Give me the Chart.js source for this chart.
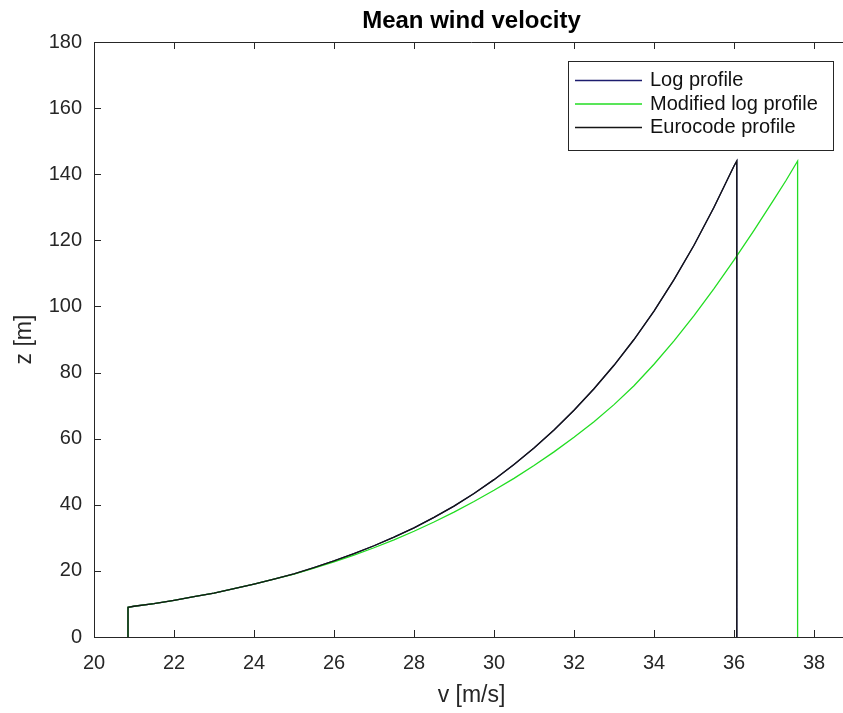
<!DOCTYPE html>
<html>
<head>
<meta charset="utf-8">
<title>Mean wind velocity</title>
<script src="https://cdn.jsdelivr.net/npm/chart.js@4.4.1/dist/chart.umd.min.js"></script>
<style>
    html, body { margin: 0; padding: 0; background: #fff; overflow: hidden; }
    #wrap { width: 843px; height: 713px; overflow: hidden; }
</style>
</head>
<body>
<div id="wrap"><canvas id="windChart" width="860" height="713"></canvas></div>
<script>
// Eurocode profile (the log profile lies right under it)
const euroVelocity = [20.85, 20.85, 21, 21.5, 22, 22.5, 23, 23.5, 24, 24.5, 25, 25.5, 26, 26.5, 27, 27.5,
    28, 28.5, 29, 29.5, 30, 30.5, 31, 31.5, 32, 32.5, 33, 33.5, 34, 34.5, 35, 35.5, 36, 36.07, 36.07];
const euroHeight = [0, 9.0, 9.3, 10.1, 11.1, 12.2, 13.3, 14.6, 16.0, 17.5, 19.1, 21.0, 23.0, 25.2, 27.6, 30.2,
    33.0, 36.2, 39.6, 43.4, 47.6, 52.2, 57.2, 62.6, 68.6, 75.1, 82.2, 90.0, 98.6, 108.1, 118.5, 130.0, 142.5, 144, 0];

const logVelocity = euroVelocity;
const logHeight = euroHeight;

const modVelocity = [20.85, 20.85, 21, 21.5, 22, 22.5, 23, 23.5, 24, 24.5, 25, 25.5, 26, 26.5, 27, 27.5,
    28, 28.5, 29, 29.5, 30, 30.5, 31, 31.5, 32, 32.5, 33, 33.5, 34, 34.5, 35, 35.5, 36, 36.5, 37, 37.3, 37.59, 37.59];
const modHeight = [0, 9.0, 9.3, 10.1, 11.1, 12.2, 13.3, 14.6, 16.0, 17.5, 19.0, 20.8, 22.7, 24.8, 27.0, 29.4,
    32.0, 34.8, 37.8, 41.0, 44.4, 48.0, 51.9, 56.0, 60.4, 65.1, 70.3, 76.0, 82.5, 89.6, 97.2, 105.4, 114.0, 123.0, 132.4, 138.1, 144, 0];

const xTicks = [20, 22, 24, 26, 28, 30, 32, 34, 36, 38];
const yTicks = [0, 20, 40, 60, 80, 100, 120, 140, 160, 180];

const FONT = "'Liberation Sans', Arial, Helvetica, sans-serif";
const AXIS_COLOR = "#262626";

function toPoints(xs, ys) {
    return xs.map((v, i) => ({ x: v, y: ys[i] }));
}

// matlab-ish box: inward ticks, top edge, title and legend
const matlabAxes = {
    id: "matlabAxes",
    afterDraw(chart) {
        const { ctx, chartArea: a, scales: { x, y } } = chart;
        ctx.save();
        ctx.strokeStyle = AXIS_COLOR;
        ctx.lineWidth = 1;
        ctx.beginPath();
        ctx.moveTo(a.left, Math.round(a.top) + 0.5);
        ctx.lineTo(a.right, Math.round(a.top) + 0.5);
        x.ticks.forEach(t => {
            const px = Math.round(x.getPixelForValue(t.value)) + 0.5;
            ctx.moveTo(px, a.bottom);
            ctx.lineTo(px, a.bottom - 7);
            ctx.moveTo(px, a.top);
            ctx.lineTo(px, a.top + 7);
        });
        y.ticks.forEach(t => {
            const py = Math.round(y.getPixelForValue(t.value)) + 0.5;
            ctx.moveTo(a.left, py);
            ctx.lineTo(a.left + 7, py);
        });
        ctx.stroke();

        // title
        ctx.fillStyle = "#000";
        ctx.font = "bold 24px " + FONT;
        ctx.textAlign = "center";
        ctx.textBaseline = "middle";
        ctx.fillText("Mean wind velocity", (a.left + a.right) / 2, 21);

        // legend
        const lw = 265, lh = 89;
        const lx = a.right - 16 - lw, ly = a.top + 19;
        ctx.fillStyle = "#fff";
        ctx.fillRect(lx, ly, lw, lh);
        ctx.strokeStyle = AXIS_COLOR;
        ctx.strokeRect(Math.round(lx) + 0.5, Math.round(ly) + 0.5, lw, lh);
        ctx.font = "20px " + FONT;
        ctx.textAlign = "left";
        chart.data.datasets.forEach((ds, i) => {
            const ry = ly + 19.5 + i * 23.5;
            ctx.strokeStyle = ds.borderColor;
            ctx.lineWidth = 1.3;
            ctx.beginPath();
            ctx.moveTo(lx + 7, ry);
            ctx.lineTo(lx + 74, ry);
            ctx.stroke();
            ctx.fillStyle = "#111";
            ctx.fillText(ds.label, lx + 82, ry);
        });
        ctx.restore();
    }
};

const ctx = document.getElementById("windChart");
const windChart = new Chart(ctx, {
    type: "scatter",
    data: {
        datasets: [{
            label: "Log profile",
            data: toPoints(logVelocity, logHeight),
            borderColor: "#1c1c6e",
            order: 3
        }, {
            label: "Modified log profile",
            data: toPoints(modVelocity, modHeight),
            borderColor: "#22dd22",
            order: 2
        }, {
            label: "Eurocode profile",
            data: toPoints(euroVelocity, euroHeight),
            borderColor: "#151515",
            order: 1
        }]
    },
    options: {
        responsive: false,
        animation: false,
        showLine: true,
        elements: {
            point: { radius: 0, hoverRadius: 0 },
            line: { borderWidth: 1.3, tension: 0, fill: false }
        },
        layout: { padding: { top: 42, right: 11, left: 0, bottom: 0 } },
        plugins: {
            legend: { display: false },
            tooltip: { enabled: false }
        },
        scales: {
            x: {
                type: "linear",
                min: 20,
                max: 38.875,
                afterBuildTicks: s => { s.ticks = xTicks.map(v => ({ value: v })); },
                afterFit: s => { s.height = 76; },
                grid: { display: false, drawTicks: false },
                border: { display: true, color: AXIS_COLOR, width: 1 },
                ticks: { padding: 14, color: AXIS_COLOR, font: { family: FONT, size: 20 } },
                title: {
                    display: true,
                    text: "v [m/s]",
                    color: AXIS_COLOR,
                    font: { family: FONT, size: 23 },
                    padding: { top: 0, bottom: 4 }
                }
            },
            y: {
                type: "linear",
                min: 0,
                max: 180,
                afterBuildTicks: s => { s.ticks = yTicks.map(v => ({ value: v })); },
                afterFit: s => { s.width = 94; },
                grid: { display: false, drawTicks: false },
                border: { display: true, color: AXIS_COLOR, width: 1 },
                ticks: { padding: 12, color: AXIS_COLOR, font: { family: FONT, size: 20 } },
                title: {
                    display: true,
                    text: "z [m]",
                    color: AXIS_COLOR,
                    font: { family: FONT, size: 23 },
                    padding: { top: 11, bottom: 0 }
                }
            }
        }
    },
    plugins: [matlabAxes]
});
</script>
</body>
</html>
